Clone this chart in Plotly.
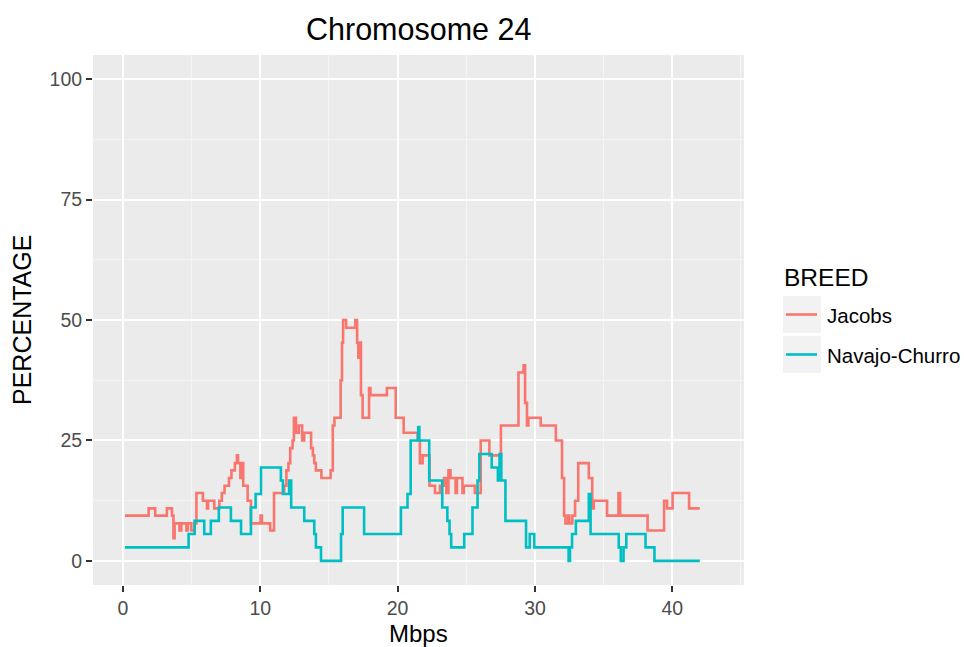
import plotly.graph_objects as go

# Breakpoints of the sliding-window percentage (step series), position in Mbps
jacobs_mbps = [
    0.15, 1.87, 2.35, 3.2, 3.57, 3.68, 3.76, 4.12, 4.25, 4.62, 4.72, 4.98, 5.2, 5.35,
    5.82, 6.12, 6.2, 6.65, 7.02, 7.2, 7.4, 7.72, 7.9, 8.15, 8.3, 8.38, 8.55, 8.62,
    8.76, 9.08, 9.32, 10.02, 10.12, 10.72, 11.0, 11.74, 11.9, 12.05, 12.18, 12.35,
    12.45, 12.6, 12.8, 13.05, 13.2, 13.7, 13.83, 13.93, 14.05, 14.45, 15.12, 15.28,
    15.4, 15.85, 15.95, 16.03, 16.25, 16.92, 17.05, 17.14, 17.2, 17.33, 17.45, 17.92,
    18.02, 19.22, 19.86, 20.44, 21.45, 21.62, 21.82, 22.32, 22.72, 23.08, 23.38, 23.55,
    23.7, 23.85, 24.22, 24.32, 24.72, 24.82, 25.62, 26.05, 26.68, 27.52, 28.8, 29.17,
    29.28, 29.42, 29.52, 30.42, 31.52, 31.97, 32.12, 32.22, 32.42, 32.5, 32.72, 32.92,
    33.15, 33.92, 34.17, 34.28, 35.25, 36.08, 36.2, 38.2, 39.4, 39.62, 40.02, 41.22,
    42.0,
]
jacobs_pct = [
    9.4, 10.9, 9.4, 10.9, 9.4, 4.7, 7.8, 6.3, 7.8, 6.3, 7.8, 6.3, 7.8, 14.1,
    12.5, 10.9, 12.5, 10.9, 12.5, 14.1, 15.6, 17.2, 18.8, 20.3, 21.9, 20.3, 17.2, 20.3,
    15.6, 12.5, 7.8, 9.4, 7.8, 6.3, 14.1, 15.6, 18.8, 20.3, 23.4, 25.0,
    29.7, 26.6, 28.1, 25.0, 26.6, 23.4, 21.9, 20.3, 18.8, 17.2, 18.8, 28.1,
    29.7, 37.5, 45.3, 50.0, 48.4, 50.0, 45.3, 42.2, 45.3, 34.4, 29.7, 35.9,
    34.4, 35.9, 29.7, 26.6, 25.0, 20.3, 21.9, 15.6, 14.1, 15.6, 17.2, 14.1,
    18.8, 17.2, 14.1, 17.2, 14.1, 15.6, 14.1, 25.0, 21.9, 28.1, 39.1, 40.6,
    32.8, 28.1, 29.7, 28.1, 25.0, 17.2, 9.4, 7.8, 9.4, 7.8, 9.4, 12.5,
    20.3, 17.2, 10.9, 12.5, 9.4, 14.1, 9.4, 6.3, 12.5, 10.9, 14.1, 10.9,
    10.9,
]

navajo_mbps = [
    0.15, 4.78, 5.22, 5.92, 6.4, 6.98, 7.86, 8.6, 9.32, 9.66, 10.05, 11.5, 11.65,
    12.1, 12.25, 13.2, 13.93, 14.05, 14.42, 15.88, 16.0, 17.56, 20.24, 20.72, 20.95,
    21.5, 21.58, 22.3, 23.25, 23.62, 23.78, 23.9, 24.85, 25.45, 25.82, 25.95, 26.85,
    27.3, 27.42, 27.55, 27.85, 29.35, 29.62, 29.95, 32.45, 32.55, 32.7, 32.98, 33.92,
    34.05, 36.1, 36.25, 36.45, 36.65, 38.05, 38.7, 42.0,
]
navajo_pct = [
    2.8, 5.6, 8.3, 5.6, 8.3, 11.1, 8.3, 5.6, 11.1, 13.9, 19.4, 16.7, 13.9,
    16.7, 11.1, 8.3, 5.6, 2.8, 0.0, 5.6, 11.1, 5.6, 11.1, 13.9, 25.0,
    27.8, 25.0, 16.7, 11.1, 8.3, 5.6, 2.8, 5.6, 11.1, 16.7, 22.2, 19.4,
    16.7, 22.2, 16.7, 8.3, 2.8, 5.6, 2.8, 0.0, 2.8, 5.6, 8.3, 13.9,
    5.6, 2.8, 0.0, 2.8, 5.6, 2.8, 0.0, 0.0,
]

breeds = ["Jacobs", "Navajo-Churro"]
breed_colors = ["#F8766D", "#00BFC4"]
x_ticks = [0, 10, 20, 30, 40]
y_ticks = [0, 25, 50, 75, 100]

FONT = "Liberation Sans, Arial, Helvetica, sans-serif"

fig = go.Figure()
for name, xs, ys, col in zip(breeds, [jacobs_mbps, navajo_mbps],
                             [jacobs_pct, navajo_pct], breed_colors):
    fig.add_trace(go.Scatter(
        x=xs, y=ys, mode="lines", name=name, showlegend=False,
        line=dict(color=col, width=2.6, shape="hv"),
    ))

# plot panel geometry (pixels) used for placing the text blocks
W, H = 964, 647
L, R, T, B = 93, 220, 55, 62
pw, ph = W - L - R, H - T - B


def px_x(p):
    return (p - L) / pw


def px_y(p):
    return (H - B - p) / ph


# legend for the breeds: grey key boxes, coloured key lines and labels
fig.add_annotation(text="BREED", xref="paper", yref="paper",
                   x=px_x(782), y=px_y(277), xanchor="left", yanchor="middle",
                   showarrow=False, font=dict(family=FONT, size=24.5, color="black"))
for i, (name, col) in enumerate(zip(breeds, breed_colors)):
    top = 296 + 40 * i
    mid = top + 18.5
    fig.add_shape(type="rect", xref="paper", yref="paper",
                  x0=px_x(783), x1=px_x(821), y0=px_y(top + 37), y1=px_y(top),
                  fillcolor="#F2F2F2", line=dict(width=0), layer="below")
    fig.add_shape(type="line", xref="paper", yref="paper",
                  x0=px_x(786), x1=px_x(817), y0=px_y(mid), y1=px_y(mid),
                  line=dict(color=col, width=2.6))
    fig.add_annotation(text=name, xref="paper", yref="paper",
                       x=px_x(825), y=px_y(mid + 1), xanchor="left", yanchor="middle",
                       showarrow=False, font=dict(family=FONT, size=20.5, color="black"))

fig.add_annotation(text="Chromosome 24", xref="paper", yref="paper",
                   x=0.5, y=px_y(29), xanchor="center", yanchor="middle",
                   showarrow=False, font=dict(family=FONT, size=30.5, color="black"))
fig.add_annotation(text="Mbps", xref="paper", yref="paper",
                   x=0.5, y=px_y(633), xanchor="center", yanchor="middle",
                   showarrow=False, font=dict(family=FONT, size=24, color="black"))
fig.add_annotation(text="PERCENTAGE", xref="paper", yref="paper",
                   x=px_x(22), y=px_y(320), xanchor="center", yanchor="middle",
                   textangle=-90, showarrow=False,
                   font=dict(family=FONT, size=25, color="black"))

axis_common = dict(
    showgrid=True, gridcolor="white", gridwidth=2, zeroline=False, showline=False,
    ticks="outside", ticklen=6, tickwidth=2, tickcolor="#333333",
    tickfont=dict(family=FONT, size=19.5, color="#4D4D4D"),
)

fig.update_layout(
    width=W, height=H,
    margin=dict(l=L, r=R, t=T, b=B, pad=0),
    paper_bgcolor="white", plot_bgcolor="#EBEBEB",
    font=dict(family=FONT),
    xaxis=dict(range=[-2.18, 45.22], tickvals=x_ticks, ticktext=[str(v) for v in x_ticks],
               minor=dict(tick0=0, dtick=5, showgrid=True, gridcolor="#F5F5F5", gridwidth=1),
               **axis_common),
    yaxis=dict(range=[-5, 105], tickvals=y_ticks, ticktext=[str(v) for v in y_ticks],
               minor=dict(tick0=0, dtick=12.5, showgrid=True, gridcolor="#F5F5F5", gridwidth=1),
               **axis_common),
    showlegend=False,
)

fig.write_html("out.html")
